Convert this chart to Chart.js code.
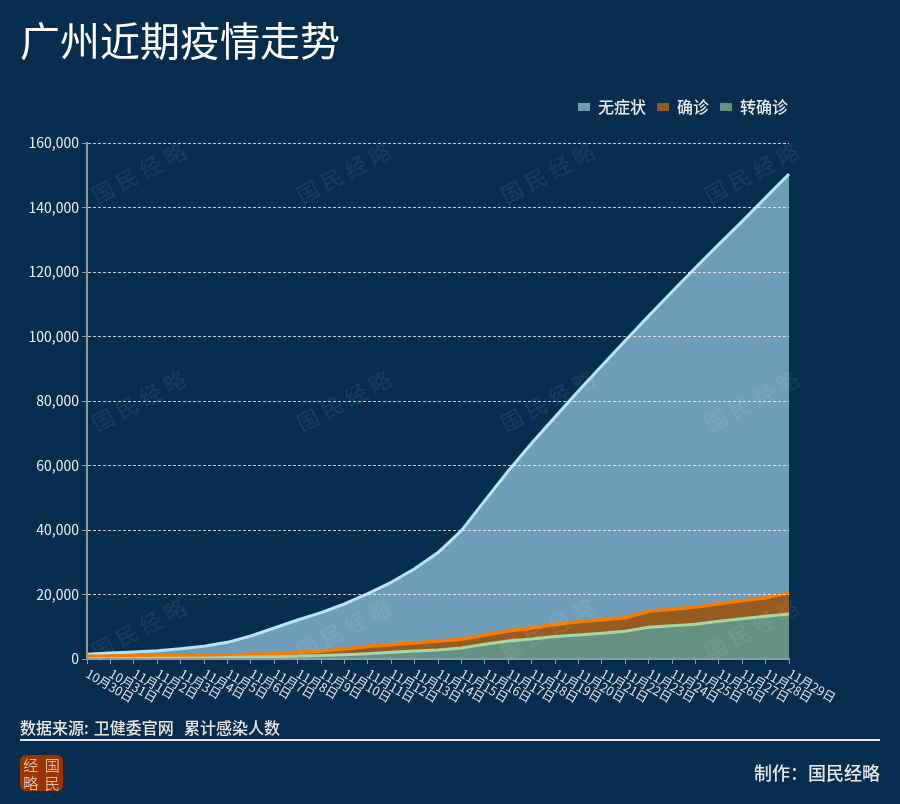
<!DOCTYPE html>
<html lang="zh">
<head>
<meta charset="utf-8">
<title>广州近期疫情走势</title>
<script src="https://cdn.jsdelivr.net/npm/chart.js@4/dist/chart.umd.js"></script>
<style>
html,body{margin:0;padding:0;background:#062c4e;}
body{width:900px;height:804px;position:relative;overflow:hidden;font-family:"Noto Sans CJK SC","Noto Sans",sans-serif;}
#wrap{position:absolute;left:0;top:0;width:900px;height:804px;}
.t{position:absolute;white-space:pre;line-height:1;}
#title{left:20px;top:19px;font-size:40px;color:#fff;}
#source{left:20px;top:719px;font-size:16px;font-weight:500;color:#e8e8e8;word-spacing:1.5px;}
#rule{position:absolute;left:20px;top:739px;width:860px;height:2px;background:#e6e6e6;}
#maker{right:20px;top:763px;font-size:18px;font-weight:500;color:#e4e8ec;}
#logo{position:absolute;left:20px;top:755px;width:43px;height:36px;background:#9c3300;border-radius:6px;color:#f3e6da;font-size:15px;font-weight:300;display:grid;grid-template-columns:1fr 1fr;grid-template-rows:1fr 1fr;place-items:center;line-height:1;}
</style>
</head>
<body>
<div id="wrap"><canvas id="c" width="900" height="804"></canvas></div>
<div class="t" id="title">广州近期疫情走势</div>
<div class="t" id="source">数据来源: 卫健委官网  累计感染人数</div>
<div id="rule"></div>
<div class="t" id="maker">制作：国民经略</div>
<div id="logo"><span>经</span><span>国</span><span>略</span><span>民</span></div>
<script>
const FONT = '"Noto Sans CJK SC","Noto Sans",sans-serif';
const categories = ['10月30日','10月31日','11月1日','11月2日','11月3日','11月4日','11月5日','11月6日','11月7日','11月8日','11月9日','11月10日','11月11日','11月12日','11月13日','11月14日','11月15日','11月16日','11月17日','11月18日','11月19日','11月20日','11月21日','11月22日','11月23日','11月24日','11月25日','11月26日','11月27日','11月28日','11月29日'];
const asymptomatic = [1450,1860,2170,2585,3200,3930,5170,7130,9600,12100,14370,17060,20260,23780,28000,33000,39800,49100,58300,66900,75000,83100,90950,98700,106350,113900,121300,128580,135700,143050,150400];
const confirmed = [830,930,1030,1080,1140,1140,1240,1450,1650,2070,2400,3100,3930,4450,4960,5580,6100,7440,8690,9620,10700,11580,12200,12800,14800,15400,16100,17160,18100,19000,20580];
const converted = [100,100,150,200,250,300,500,600,720,930,1050,1340,1650,2070,2480,2790,3400,4550,5580,6200,7000,7440,7960,8580,9820,10340,10750,11680,12500,13230,13960];
const yMax = 160000, yStep = 20000;
const watermark = '国民经略';

const watermarkPlugin = {
  id: 'watermark',
  afterDraw(chart) {
    const ctx = chart.ctx;
    ctx.save();
    ctx.font = '500 22px ' + FONT;
    ctx.fillStyle = 'rgba(255,255,255,0.07)';
    ctx.textAlign = 'center';
    ctx.textBaseline = 'middle';
    if ('letterSpacing' in ctx) ctx.letterSpacing = '5px';
    [172, 400, 628].forEach(y => [141, 346, 550, 754].forEach(x => {
      ctx.save();
      ctx.translate(x, y);
      ctx.rotate(-28 * Math.PI / 180);
      ctx.fillText(watermark, 0, 0);
      ctx.restore();
    }));
    ctx.restore();
  }
};
const legendSpace = {
  id: 'legendSpace',
  beforeLayout(chart) {
    const lg = chart.legend;
    if (lg && !lg._wrapped) {
      const f = lg.fit;
      lg.fit = function () { f.call(this); this.height = 55; };
      lg._wrapped = true;
    }
  },
  afterLayout(chart) {
    chart.legend.right += 10;
    chart.legend.width += 10;
  }
};
function series(label, data, line, fill, order, width) {
  return { label, data, borderColor: line, backgroundColor: fill, borderWidth: width, pointRadius: 0, fill: 'origin', tension: 0, order, borderJoinStyle: 'round' };
}
new Chart(document.getElementById('c'), {
  type: 'line',
  data: {
    labels: categories,
    datasets: [
      series('无症状', asymptomatic, '#b3e5fc', '#6f9db8', 3, 3),
      series('确诊', confirmed, '#f57c00', '#955c21', 2, 3.5),
      series('转确诊', converted, '#a5d6a7', '#659283', 1, 3)
    ]
  },
  plugins: [legendSpace, watermarkPlugin],
  options: {
    responsive: false,
    animation: false,
    devicePixelRatio: 1,
    layout: { padding: { top: 88, right: 111, bottom: 0, left: 0 } },
    plugins: {
      title: { display: false },
      tooltip: { enabled: false },
      legend: {
        position: 'top',
        align: 'end',
        labels: {
          color: '#e8eef2',
          font: { family: FONT, size: 16, weight: '500' },
          boxWidth: 12,
          boxHeight: 8,
          padding: 11,
          sort: (a, b) => a.datasetIndex - b.datasetIndex,
          generateLabels(chart) {
            return Chart.defaults.plugins.legend.labels.generateLabels(chart).map(i => Object.assign(i, { lineWidth: 0, strokeStyle: 'transparent' }));
          }
        }
      }
    },
    scales: {
      x: {
        offset: false,
        afterFit(s) { s.height = 145; s._getXAxisLabelAlignment = () => 'left'; },
        grid: { display: true, color: 'transparent', drawTicks: true, tickLength: 5, tickColor: '#8f9aa3', z: -1 },
        border: { display: true, color: '#8f9aa3', width: 2, z: 2 },
        ticks: {
          autoSkip: false,
          minRotation: -30,
          maxRotation: -30,
          color: '#dfe6ea',
          padding: 2,
          font: { family: FONT, size: 12.5 }
        }
      },
      y: {
        min: 0,
        max: yMax,
        afterFit(s) { s.width = 87; },
        ticks: {
          stepSize: yStep,
          color: '#edf1f4',
          padding: 3,
          font: { family: FONT, size: 14 },
          callback: v => Number(v).toLocaleString('en-US')
        },
        border: { display: true, color: '#8f9aa3', width: 2, z: 2, dash: [3, 2] },
        grid: { z: 1, color: 'rgba(255,255,255,0.75)', lineWidth: 1, tickColor: '#8f9aa3', tickLength: 5, drawTicks: true }
      }
    }
  }
});
</script>
</body>
</html>
